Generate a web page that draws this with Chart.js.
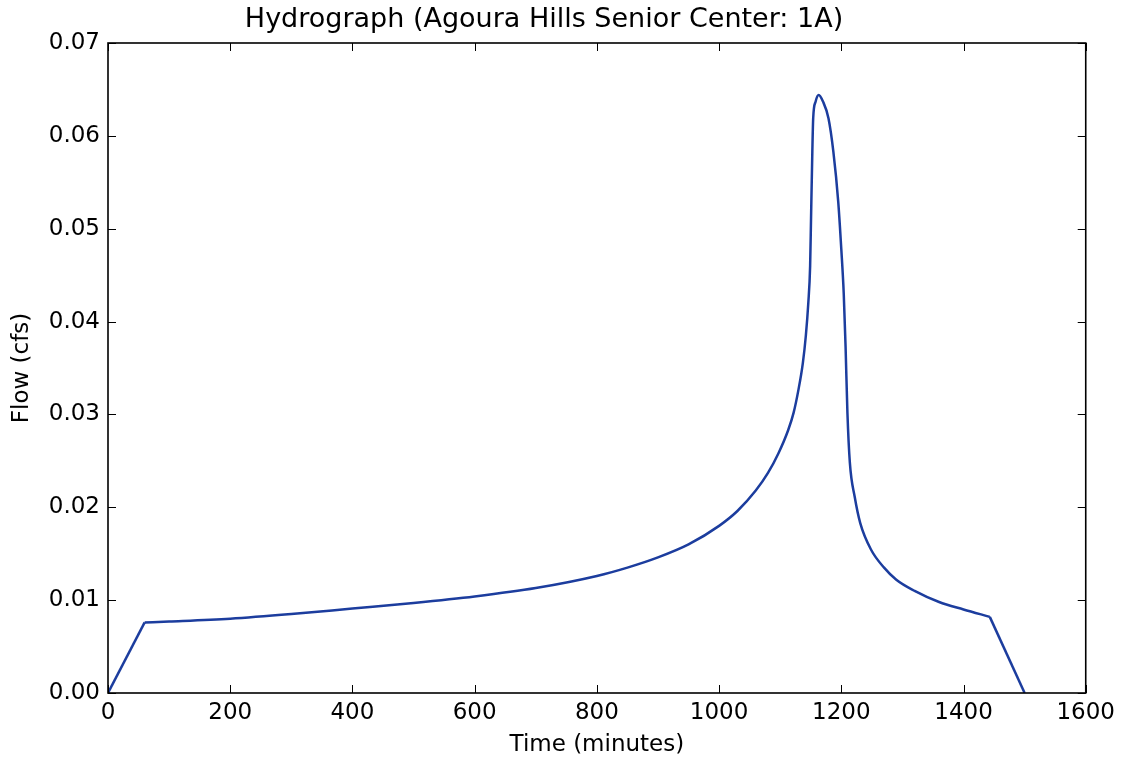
<!DOCTYPE html>
<html>
<head>
<meta charset="utf-8">
<title>Hydrograph</title>
<script src="https://cdn.jsdelivr.net/npm/chart.js@4.4.1/dist/chart.umd.min.js"></script>
<style>
  html, body { margin: 0; padding: 0; background: #fff; }
  #wrap { width: 1121px; height: 759px; }
</style>
</head>
<body>
<div id="wrap"><canvas id="hydroChart" width="1121" height="759"></canvas></div>
<script>
// time (minutes) and flow (cfs)
const timeMinutes = [
  0, 60, 100, 200, 300, 400, 500, 600, 700, 800, 850, 900, 950, 1000, 1030, 1060,
  1080, 1097, 1113, 1122, 1130, 1137, 1142, 1146, 1149, 1150.5, 1152.6, 1154, 1158, 1163, 1170,
  1179, 1187, 1195, 1200, 1204, 1207, 1210, 1214, 1222, 1231, 1249, 1270, 1290,
  1320, 1360, 1400, 1443, 1500
];
const flowCfs = [
  0.0, 0.0076, 0.0077, 0.0080, 0.0085, 0.0091, 0.0097, 0.0104, 0.0113, 0.0126, 0.0135, 0.0146, 0.0160, 0.0180, 0.0196, 0.0218,
  0.0237, 0.0258, 0.0283, 0.0302, 0.0327, 0.0355, 0.0385, 0.0420, 0.0460, 0.0512, 0.0583, 0.0619, 0.0637, 0.0644, 0.0637,
  0.0619, 0.0583, 0.0529, 0.0478, 0.0430, 0.0373, 0.0302, 0.0248, 0.0211, 0.0183, 0.0154, 0.0135, 0.0122,
  0.0110, 0.0098, 0.0090, 0.0082, 0.0
];
const xTicks = [0, 200, 400, 600, 800, 1000, 1200, 1400, 1600];
const yTicks = [0.00, 0.01, 0.02, 0.03, 0.04, 0.05, 0.06, 0.07];

const FONT = '"DejaVu Sans", "Liberation Sans", sans-serif';
const LINE = '#1c3d9e';

function pts(from, to) {
  return timeMinutes.slice(from, to).map((t, i) => ({ x: t, y: flowCfs[from + i] }));
}
const n = timeMinutes.length;

// matplotlib-style frame with inward ticks on all four sides
const frameTicks = {
  id: 'frameTicks',
  afterDraw(chart) {
    const ctx = chart.ctx;
    const a = chart.chartArea;
    const xs = chart.scales.x, ys = chart.scales.y;
    const len = 8;
    ctx.save();
    ctx.strokeStyle = '#000';
    ctx.lineWidth = 1;
    ctx.beginPath();
    xTicks.forEach(v => {
      const px = Math.round(xs.getPixelForValue(v)) + 0.5;
      ctx.moveTo(px, a.bottom); ctx.lineTo(px, a.bottom - len);
      ctx.moveTo(px, a.top); ctx.lineTo(px, a.top + len);
    });
    yTicks.forEach(v => {
      const py = Math.round(ys.getPixelForValue(v)) + 0.5;
      ctx.moveTo(a.left, py); ctx.lineTo(a.left + len, py);
      ctx.moveTo(a.right, py); ctx.lineTo(a.right - len, py);
    });
    ctx.stroke();
    ctx.lineWidth = 1.6;
    ctx.strokeRect(a.left, a.top, a.right - a.left, a.bottom - a.top);
    ctx.restore();
  }
};

const common = { borderColor: LINE, borderWidth: 2.5, pointRadius: 0, fill: false };

const ctx = document.getElementById('hydroChart').getContext('2d');
new Chart(ctx, {
  type: 'line',
  data: {
    datasets: [
      // straight rise, smooth body, straight fall
      Object.assign({ data: pts(0, 2), tension: 0 }, common),
      Object.assign({ data: pts(1, n - 1), cubicInterpolationMode: 'monotone' }, common),
      Object.assign({ data: pts(n - 2, n), tension: 0 }, common)
    ]
  },
  options: {
    responsive: false,
    animation: false,
    layout: { padding: { left: 0, right: 33, top: 0, bottom: 0 } },
    plugins: {
      legend: { display: false },
      tooltip: { enabled: false },
      title: {
        display: true,
        text: 'Hydrograph (Agoura Hills Senior Center: 1A)',
        color: '#000',
        font: { family: FONT, size: 27, weight: 'normal', lineHeight: 1.2 },
        padding: { top: 4, bottom: 6.6 }
      }
    },
    scales: {
      x: {
        type: 'linear',
        min: 0,
        max: 1600,
        afterBuildTicks: s => { s.ticks = xTicks.map(v => ({ value: v })); },
        afterFit: s => { s.height = 66; },
        grid: { display: false, drawTicks: false },
        border: { display: false },
        ticks: {
          color: '#000',
          padding: 6,
          maxRotation: 0,
          font: { family: FONT, size: 23 },
          callback: v => String(v)
        },
        title: {
          display: true,
          text: 'Time (minutes)',
          color: '#000',
          font: { family: FONT, size: 23 },
          padding: { top: 0, bottom: 0 }
        }
      },
      y: {
        min: 0,
        max: 0.07,
        afterBuildTicks: s => { s.ticks = yTicks.map(v => ({ value: v })); },
        afterFit: s => { s.width = 108; },
        grid: { display: false, drawTicks: false },
        border: { display: false },
        ticks: {
          color: '#000',
          padding: 8,
          font: { family: FONT, size: 23 },
          callback: v => Number(v).toFixed(2)
        },
        title: {
          display: true,
          text: 'Flow (cfs)',
          color: '#000',
          font: { family: FONT, size: 23 },
          padding: { top: 8, bottom: 0 }
        }
      }
    }
  },
  plugins: [frameTicks]
});
</script>
</body>
</html>
